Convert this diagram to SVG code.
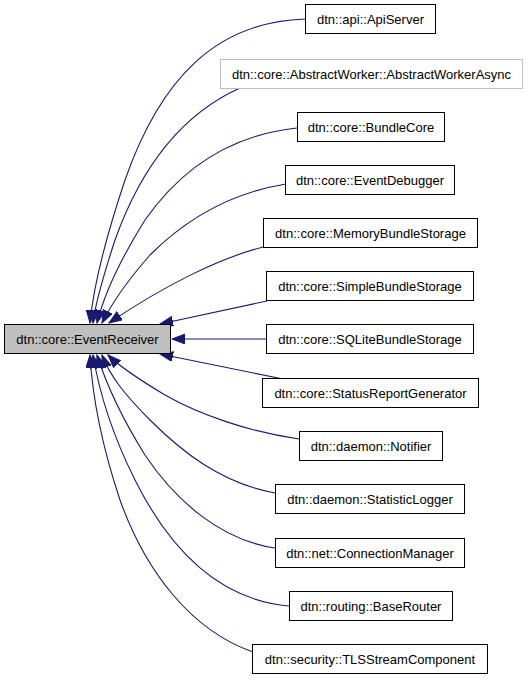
<svg xmlns="http://www.w3.org/2000/svg" width="528" height="680" viewBox="0 0 528 680">
<style>
.n rect{fill:#fff;stroke:#000;stroke-width:1}
.n text{font-family:"Liberation Sans",Arial,sans-serif;font-size:13px;text-anchor:middle;fill:#000}
#main rect{fill:#bfbfbf}
#n_abstractworker rect{stroke:#bfbfbf}
.e path{fill:none;stroke:#191970;stroke-width:1.1;marker-end:url(#arr)}
</style>
<defs>
<marker id="arr" markerUnits="userSpaceOnUse" markerWidth="14" markerHeight="11" refX="13" refY="5" orient="auto">
<path d="M0,0 L13,5 L0,10 Z" fill="#191970" stroke="#191970" stroke-width="1"/>
</marker>
</defs>
<g id="edges" class="e">
<path d="M305,19 C215,22 160,80 125,180 C105,240 93,290 90,323"/>
<path d="M240,88 C180,115 140,170 115,240 C102,280 95,305 93,323"/>
<path d="M297,128 C230,135 180,170 145,220 C120,260 104,295 97,323"/>
<path d="M286,184 C230,193 185,220 150,255 C128,280 112,303 102,323"/>
<path d="M263,247 C220,258 165,285 109,323"/>
<path d="M267,301 L160,324"/>
<path d="M266,339 L172,339"/>
<path d="M283,379 L160,354"/>
<path d="M299,439 C250,432 200,415 165,395 C140,380 120,367 108,355"/>
<path d="M275,493 C220,483 180,450 150,420 C125,395 110,376 102,355"/>
<path d="M275,548 C220,540 175,500 145,455 C120,415 105,380 97,355"/>
<path d="M289,606 C220,600 170,550 135,480 C110,430 98,385 93,355"/>
<path d="M253,652 C190,630 145,570 120,500 C100,440 92,390 90,355"/>
</g>
<g id="main" class="n"><rect x="4.5" y="324.5" width="166" height="29"/><text x="87.5" y="343.5">dtn::core::EventReceiver</text></g>
<g id="n_apiserver" class="n"><rect x="305.5" y="4.5" width="130" height="29"/><text x="370.5" y="23.5">dtn::api::ApiServer</text></g>
<g id="n_abstractworker" class="n"><rect x="220.5" y="59.5" width="302" height="29"/><text x="371.5" y="78.5">dtn::core::AbstractWorker::AbstractWorkerAsync</text></g>
<g id="n_bundlecore" class="n"><rect x="297.5" y="112.5" width="147" height="29"/><text x="371" y="131.5">dtn::core::BundleCore</text></g>
<g id="n_eventdebugger" class="n"><rect x="285.5" y="165.5" width="169" height="29"/><text x="370" y="184.5">dtn::core::EventDebugger</text></g>
<g id="n_memory" class="n"><rect x="263.5" y="218.5" width="214" height="29"/><text x="370.5" y="237.5">dtn::core::MemoryBundleStorage</text></g>
<g id="n_simple" class="n"><rect x="266.5" y="271.5" width="207" height="29"/><text x="370" y="290.5">dtn::core::SimpleBundleStorage</text></g>
<g id="n_sqlite" class="n"><rect x="266.5" y="324.5" width="207" height="29"/><text x="370" y="343.5">dtn::core::SQLiteBundleStorage</text></g>
<g id="n_status" class="n"><rect x="262.5" y="378.5" width="216" height="29"/><text x="370.5" y="397.5">dtn::core::StatusReportGenerator</text></g>
<g id="n_notifier" class="n"><rect x="299.5" y="431.5" width="143" height="29"/><text x="371" y="450.5">dtn::daemon::Notifier</text></g>
<g id="n_statlogger" class="n"><rect x="275.5" y="484.5" width="189" height="29"/><text x="370" y="503.5">dtn::daemon::StatisticLogger</text></g>
<g id="n_connmgr" class="n"><rect x="275.5" y="538.5" width="189" height="29"/><text x="370" y="557.5">dtn::net::ConnectionManager</text></g>
<g id="n_baserouter" class="n"><rect x="289.5" y="591.5" width="163" height="29"/><text x="371" y="610.5">dtn::routing::BaseRouter</text></g>
<g id="n_tls" class="n"><rect x="252.5" y="644.5" width="235" height="29"/><text x="370" y="663.5">dtn::security::TLSStreamComponent</text></g>
</svg>
